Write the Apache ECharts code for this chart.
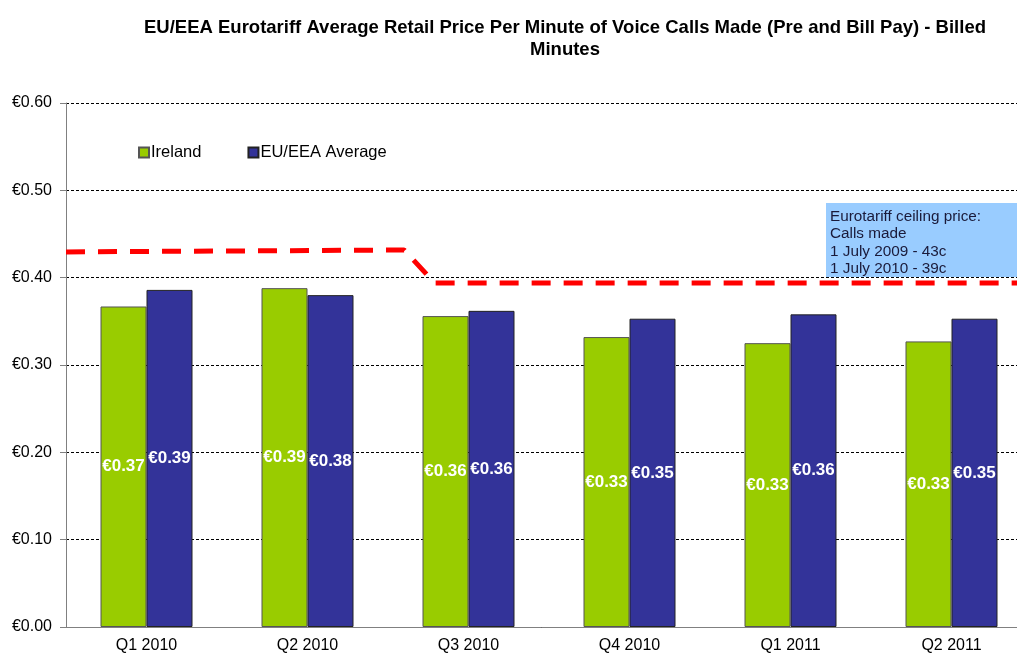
<!DOCTYPE html>
<html><head><meta charset="utf-8">
<script src="https://cdn.jsdelivr.net/npm/echarts@6/dist/echarts.min.js"></script>
<style>html,body{margin:0;padding:0;background:#fff}#c{width:1017px;height:653px}</style>
</head><body><div id="c"></div>
<script>
const categories = ['Q1 2010','Q2 2010','Q3 2010','Q4 2010','Q1 2011','Q2 2011'];
const ireland = [0.367, 0.388, 0.356, 0.332, 0.325, 0.327];
const euAverage = [0.386, 0.380, 0.362, 0.353, 0.358, 0.353];
const ceilingX = [0, 2.1, 2.29, 6];
const ceilingY = [0.4295, 0.4317, 0.394, 0.394];
const yTicks = [0, 0.1, 0.2, 0.3, 0.4, 0.5, 0.6];
const noteLines = ['Eurotariff ceiling price:', 'Calls made', '1 July 2009 - 43c', '1 July 2010 - 39c'];

const chart = echarts.init(document.getElementById('c'));
const fmt = v => '€' + v.toFixed(2);
const labelFont = 'Liberation Sans, Arial';
chart.setOption({
  animation: false,
  backgroundColor: '#fff',
  title: {
    text: 'EU/EEA Eurotariff Average Retail Price Per Minute of Voice Calls Made (Pre and Bill Pay) - Billed\nMinutes',
    left: 560, top: 12, textAlign: 'center',
    textStyle: {fontFamily: 'Liberation Sans, Arial', fontWeight: 'bold', fontSize: 18.5, lineHeight: 22, color: '#000'}
  },
  legend: {
    left: 133, top: 139, itemWidth: 10, itemHeight: 10, itemGap: 46,
    textStyle: {fontFamily: labelFont, fontSize: 16.5, color: '#000', padding: [0,0,0,-3]},
    data: [{name: 'Ireland', icon: 'rect'}, {name: 'EU/EEA Average', icon: 'rect'}]
  },
  grid: {left: 66, top: 103, width: 966, height: 524, containLabel: false, outerBoundsMode: 'none'},
  xAxis: [{
    type: 'category', data: categories,
    axisLine: {lineStyle: {color: '#808080'}},
    axisTick: {lineStyle: {color: '#808080'}, length: 5},
    axisLabel: {fontFamily: labelFont, fontSize: 16, color: '#000', margin: 11}
  }, {
    type: 'value', min: 0, max: 6, show: false
  }],
  yAxis: {
    type: 'value', min: 0, max: 0.6, interval: 0.1,
    axisLine: {show: true, lineStyle: {color: '#808080'}},
    axisTick: {show: true, inside: false, length: 6, lineStyle: {color: '#808080'}},
    axisLabel: {formatter: v => fmt(v), fontFamily: labelFont, fontSize: 16, color: '#000', margin: 14},
    splitLine: {lineStyle: {color: '#000', type: [3, 2], width: 1}}
  },
  series: [{
    name: 'Ireland', type: 'bar', data: ireland, barWidth: 46, barGap: '0%',
    itemStyle: {color: '#99cc00', borderColor: '#555', borderWidth: 1},
    label: {show: true, position: 'inside', formatter: p => fmt(p.value), color: '#fff', fontWeight: 'bold', fontSize: 17, fontFamily: labelFont}
  }, {
    name: 'EU/EEA Average', type: 'bar', data: euAverage, barWidth: 46,
    itemStyle: {color: '#333399', borderColor: '#222', borderWidth: 1},
    label: {show: true, position: 'inside', formatter: p => fmt(p.value), color: '#fff', fontWeight: 'bold', fontSize: 17, fontFamily: labelFont}
  }, {
    name: 'ceiling', type: 'line', xAxisIndex: 1, symbol: 'none', silent: true,
    data: ceilingX.map((x, i) => [x, ceilingY[i]]),
    lineStyle: {color: '#ff0000', width: 5, type: [19, 13]},
    z: 5
  }],
  graphic: [{
    type: 'group', left: 826, top: 203,
    children: [
      {type: 'rect', shape: {x: 0, y: 0, width: 200, height: 74}, style: {fill: '#99ccff'}},
      {type: 'text', x: 4, y: 5, style: {text: noteLines.join('\n'), fontFamily: 'Liberation Sans, Arial', fontSize: 15.3, lineHeight: 17.5, fill: '#1a1a3a'}}
    ]
  }]
});
</script></body></html>
